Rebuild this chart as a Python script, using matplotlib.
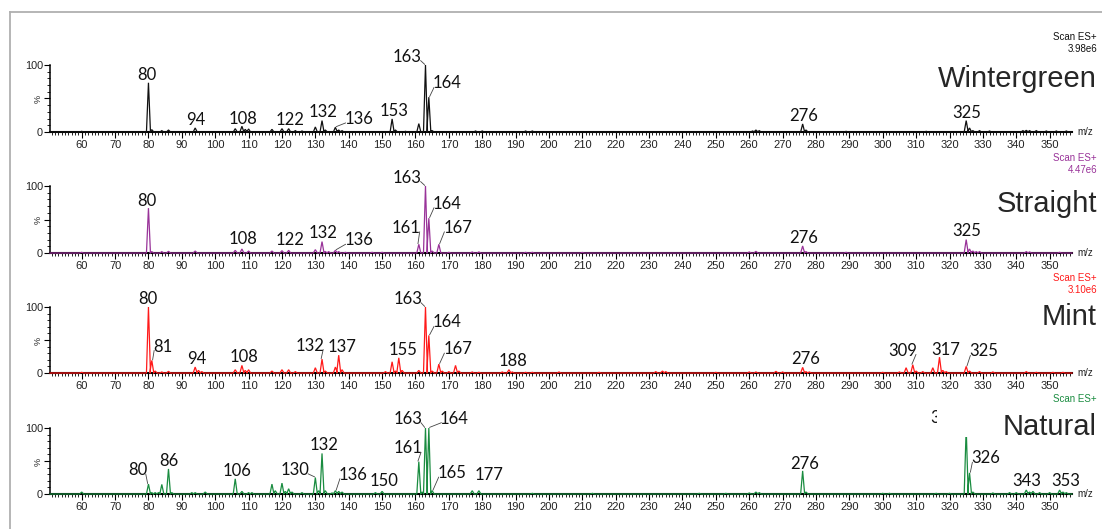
import matplotlib
matplotlib.use("Agg")
import matplotlib.pyplot as plt
from matplotlib.lines import Line2D
from matplotlib.patches import Rectangle
from matplotlib.ticker import MultipleLocator, FixedLocator, FixedFormatter

plt.rcParams["font.family"] = ["Liberation Sans", "DejaVu Sans"]

# ---------------------------------------------------------------- data
sample_names = ["Wintergreen", "Straight", "Mint", "Natural"]
trace_colors = ["#111111", "#993399", "#ff1a1a", "#1a8c40"]
base_intensity = ["3.98e6", "4.47e6", "3.10e6", "4.02e6"]

wintergreen_mz = [60, 80, 81, 84, 86, 94, 106, 108, 109, 110, 117, 120, 122, 124, 126,
                  130, 132, 133, 136, 137, 138, 153, 154, 157, 161, 163, 164, 165, 178,
                  180, 193, 195, 261, 262, 263, 276, 277, 289, 313, 325, 326, 327, 329,
                  332, 342, 343, 344, 346, 349, 352, 355]
wintergreen_int = [1, 73.5, 3.5, 2, 3, 6, 5, 8.5, 4, 4.5, 4, 5, 5, 2, 1.5,
                   7.5, 17, 3, 7, 3, 2, 19.5, 3, 1, 12.5, 100, 52, 2, 1.5,
                   1.5, 1.5, 1.5, 1.5, 3, 2, 12, 3, 1, 1, 17, 6, 2, 2,
                   1.5, 2, 2.5, 2, 2, 1.5, 1.5, 1.5]
wintergreen_labels = [80, 94, 108, 122, 132, 136, 153, 163, 164, 276, 325]

straight_mz = [60, 80, 81, 84, 86, 94, 106, 108, 110, 117, 120, 122, 130, 132, 133,
               134, 136, 137, 139, 147, 150, 161, 163, 164, 165, 167, 170, 177, 179,
               193, 195, 210, 260, 262, 276, 277, 289, 325, 326, 327, 328, 329, 343,
               344, 353]
straight_int = [1, 67, 2, 2, 2.5, 3, 4, 6, 3, 3, 3.5, 4, 5, 17, 2,
                2, 4, 2, 1, 1, 1, 13, 100, 52, 3, 13, 1, 1.5, 1.5,
                1, 1, 0.8, 1.5, 2.5, 10.5, 2, 1, 20, 6, 3, 2, 2, 2,
                1.5, 1]
straight_labels = [80, 108, 122, 132, 136, 161, 163, 164, 167, 276, 325]

mint_mz = [60, 80, 81, 82, 84, 86, 94, 95, 96, 106, 108, 109, 110, 117, 120, 122,
           124, 130, 132, 133, 136, 137, 138, 151, 153, 154, 155, 156, 161, 163, 164,
           165, 167, 168, 170, 172, 173, 177, 179, 186, 188, 189, 193, 195, 203, 215,
           232, 234, 235, 250, 260, 262, 268, 270, 276, 277, 278, 300, 305, 307, 309,
           310, 312, 315, 317, 318, 319, 325, 326, 329, 333, 343, 346, 351, 354]
mint_int = [1, 100, 19, 3, 1.5, 2.5, 9, 4, 2, 5, 11.5, 4, 5, 3, 5, 5,
            2, 8, 21, 3, 9, 27, 5, 2, 17, 3, 23, 4, 4, 100, 57,
            3, 13.5, 3, 2, 11.5, 3, 1.5, 1, 1.5, 5, 1.5, 1, 1, 1.5, 1,
            2, 3, 2, 1, 1.5, 1.5, 2.5, 1.5, 8.5, 2, 1.5, 1, 1.5, 8, 12.5,
            3, 2, 8, 24, 4, 2, 10, 3, 2, 1.5, 2, 1, 1, 1]
mint_labels = [80, 81, 94, 108, 132, 137, 155, 163, 164, 167, 188, 276, 309, 317, 325]

natural_mz = [60, 80, 81, 82, 83, 84, 86, 87, 93, 94, 97, 106, 108, 110, 111, 117,
              118, 120, 121, 122, 123, 126, 130, 131, 132, 133, 135, 136, 137, 138,
              148, 150, 161, 162, 163, 164, 165, 177, 179, 195, 213, 245, 253, 260,
              262, 263, 276, 277, 300, 302, 316, 320, 325, 326, 327, 333, 338, 340,
              343, 344, 345, 347, 350, 353, 354, 355]
natural_int = [3, 15, 2, 2, 2, 14.5, 38, 2, 2, 2, 3, 23, 4, 2, 2, 15,
               5, 16.5, 4, 8, 3, 2, 25, 5, 61.5, 5, 1.5, 5, 4, 3,
               2, 4, 49, 3, 100, 100, 5, 5, 5, 1, 1, 1, 1, 1.5,
               3, 2, 35, 3, 1, 1, 1, 1, 100, 32, 3, 1.5, 2, 2,
               6, 3, 4, 2, 2, 6, 3, 2]
natural_labels = [80, 86, 106, 130, 132, 136, 150, 161, 163, 164, 165, 177, 276,
                  325, 326, 343, 353]

x_tick_values = list(range(60, 351, 10))

# ---------------------------------------------------------------- layout
# label placement: m/z -> (text centre in m/z, text baseline in %, leader line)
label_layout = [
    {80: (79.6, 78, False), 94: (94.2, 10.5, False), 108: (108.3, 12, False),
     122: (122.5, 10.5, False), 132: (132.3, 22, False), 136: (143.0, 12, True),
     153: (153.6, 24, False), 163: (157.6, 105, True), 164: (169.5, 65, True),
     276: (276.2, 16, False), 325: (325.3, 20.5, False)},
    {80: (79.6, 70, False), 108: (108.3, 13.5, False), 122: (122.5, 11.5, False),
     132: (132.3, 22, False), 136: (143.0, 11.5, True), 161: (157.3, 30, True),
     163: (157.6, 105, True), 164: (169.5, 66, True), 167: (172.6, 30, True),
     276: (276.2, 15.5, False), 325: (325.3, 26, False)},
    {80: (79.9, 105, False), 81: (84.2, 32.5, True), 94: (94.4, 13.5, False),
     108: (108.6, 16, False), 132: (128.4, 34, True), 137: (137.9, 32, False),
     155: (156.2, 27, False), 163: (157.7, 105, True), 164: (169.5, 69, True),
     167: (172.6, 28.5, True), 188: (189.3, 10, False), 276: (276.8, 14, False),
     309: (306.0, 26.5, True), 317: (318.8, 28, False), 325: (330.2, 25, True)},
    {80: (76.7, 28.5, True), 86: (86.0, 42.5, False), 106: (106.4, 27.5, False),
     130: (123.9, 29, True), 132: (132.5, 66.5, False), 136: (141.3, 21.5, True),
     150: (150.7, 11.5, False), 161: (157.7, 61.5, True), 163: (157.7, 106.5, True),
     164: (171.7, 106.5, True), 165: (170.9, 24, True), 177: (182.0, 21.5, False),
     276: (276.7, 38, False), 325: (318.5, 107, True), 326: (330.8, 46.5, True),
     343: (343.2, 12.6, False), 353: (354.7, 12.6, False)},
]

W_PX, H_PX = 1102, 529
AX_LEFT_PX, AX_RIGHT_PX = 50, 1072
MZ_MIN, MZ_MAX = 50.5, 356.7
rows_px = [(132, 65), (253, 186), (373, 307), (494, 428)]   # (0 %, 100 %) rows
name_base_px = [45, 41, 48, 59]
PEAK_HALF = 0.6
LABEL_FONT = ["Lato", "DejaVu Sans"]

fig = plt.figure(figsize=(W_PX / 100, H_PX / 100), dpi=100)
fig.patch.set_facecolor("white")

# thin grey frame along the top and the left
frame_kw = dict(color="#b0b0b0", lw=1.3, transform=fig.transFigure)
fig.add_artist(Line2D([9.5 / W_PX, 1.0], [1 - 11.5 / H_PX] * 2, **frame_kw))
fig.add_artist(Line2D([9.5 / W_PX] * 2, [0.0, 1 - 11.5 / H_PX], **frame_kw))


def spike_trace(mz, inten):
    xs, ys = [MZ_MIN], [0.0]
    for m, h in sorted(zip(mz, inten)):
        xs += [m - PEAK_HALF, m, m + PEAK_HALF]
        ys += [0.0, h, 0.0]
    xs.append(MZ_MAX)
    ys.append(0.0)
    return xs, ys


series = [
    (wintergreen_mz, wintergreen_int, wintergreen_labels),
    (straight_mz, straight_int, straight_labels),
    (mint_mz, mint_int, mint_labels),
    (natural_mz, natural_int, natural_labels),
]

for i, (mz, inten, labelled) in enumerate(series):
    y0, y100 = rows_px[i]
    color = trace_colors[i]
    ax = fig.add_axes([AX_LEFT_PX / W_PX, 1 - y0 / H_PX,
                       (AX_RIGHT_PX - AX_LEFT_PX) / W_PX, (y0 - y100) / H_PX])
    ax.set_xlim(MZ_MIN, MZ_MAX)
    ax.set_ylim(0, 100)
    ax.patch.set_alpha(0)
    for side in ("top", "right"):
        ax.spines[side].set_visible(False)
    ax.spines["bottom"].set_linewidth(1.5)
    ax.spines["left"].set_linewidth(1.1)

    ax.xaxis.set_major_locator(FixedLocator(x_tick_values))
    ax.xaxis.set_minor_locator(MultipleLocator(1))
    ax.tick_params(axis="x", which="major", length=4, width=0.8, pad=1.5,
                   labelsize=8, labelcolor="#222222")
    ax.tick_params(axis="x", which="minor", length=2.2, width=0.6)
    ax.yaxis.set_major_locator(FixedLocator([0, 50, 100]))
    ax.yaxis.set_major_formatter(FixedFormatter(["0", "%", "100"]))
    ax.yaxis.set_minor_locator(MultipleLocator(10))
    ax.tick_params(axis="y", which="major", length=4, width=0.8, pad=1,
                   labelsize=7.8, labelcolor="#222222")
    ax.tick_params(axis="y", which="minor", length=2, width=0.6)
    ax.get_yticklabels()[1].set_rotation(90)
    ax.get_yticklabels()[1].set_fontsize(6.5)

    xs, ys = spike_trace(mz, inten)
    ax.plot(xs, ys, color=color, lw=0.9, clip_on=False, zorder=3,
            solid_joinstyle="miter")

    heights = dict(zip(mz, inten))
    for m in labelled:
        cx, by, leader = label_layout[i][m]
        ax.text(cx, by, str(m), ha="center", va="baseline", fontsize=12,
                family=LABEL_FONT, color="#111111", clip_on=False, zorder=3)
        if leader:
            hw = 1.45 * len(str(m))
            h = heights[m]
            if cx < m:
                ex, px = cx + hw - 0.4, m - 0.25
            else:
                ex, px = cx - hw + 0.4, m + 0.25
            ax.plot([px, ex], [h + 1.0, by + 1.5], color="#444444", lw=0.6,
                    clip_on=False, zorder=3)

    ax.text(1.0 + 5 / (AX_RIGHT_PX - AX_LEFT_PX), 0.0, "m/z", transform=ax.transAxes,
            ha="left", va="center", fontsize=7, color="#222222")

    # white plate behind the sample caption (Natural covers its scale text)
    if i == 3:
        ax.add_patch(Rectangle((316.2, 86), 50, 56, facecolor="white",
                               edgecolor="none", clip_on=False, zorder=4))

    fig.text(1097 / W_PX, 1 - (y0 - 95) / H_PX, "Scan ES+", ha="right", va="center",
             fontsize=7, color=color, zorder=6)
    if i != 3:
        fig.text(1097 / W_PX, 1 - (y0 - 83) / H_PX, base_intensity[i], ha="right",
                 va="center", fontsize=7, color=color, zorder=6)
    fig.text(1097 / W_PX, 1 - (y0 - name_base_px[i]) / H_PX, sample_names[i],
             ha="right", va="baseline", fontsize=21, color="#262626", zorder=6)

fig.savefig("out.png", dpi=100, facecolor="white")
